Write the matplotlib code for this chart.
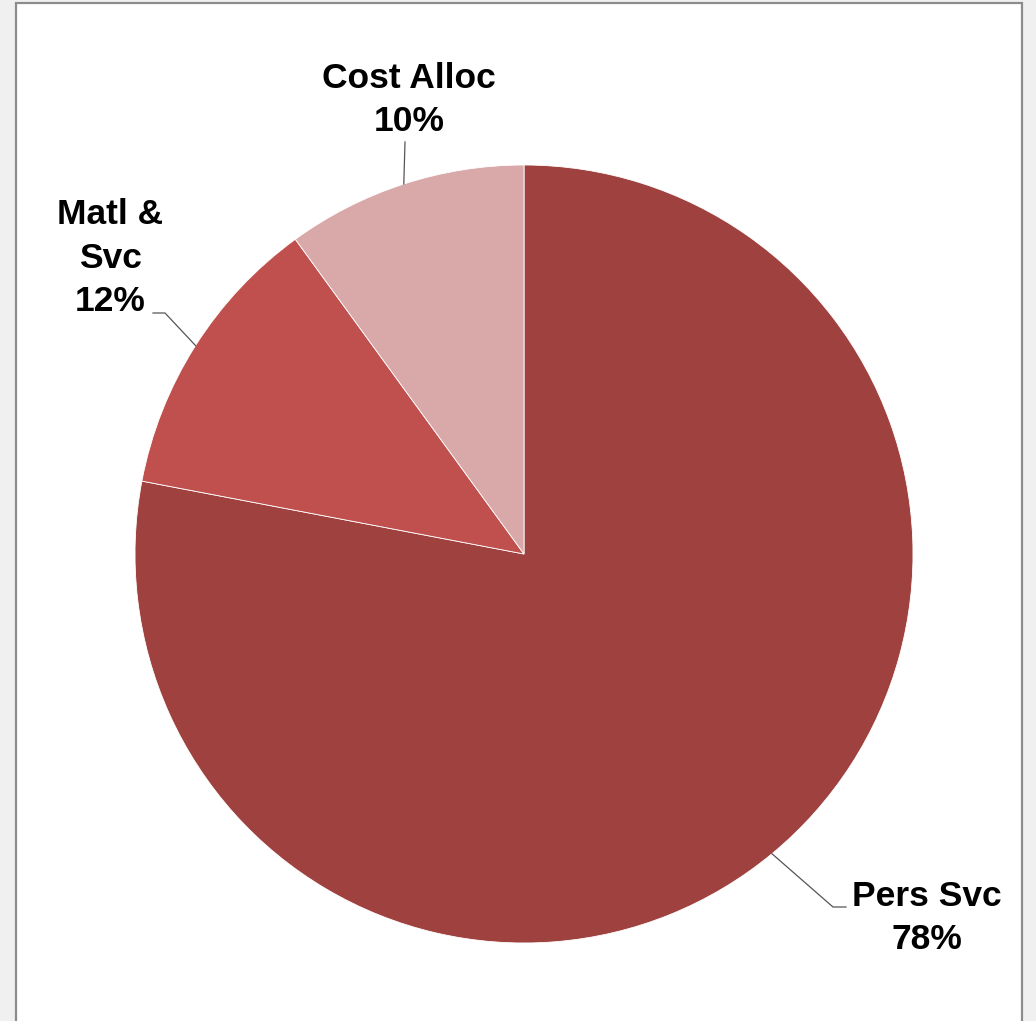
import matplotlib
matplotlib.use("Agg")
import matplotlib.pyplot as plt
import numpy as np
from matplotlib.patches import Rectangle

labels = ["Pers Svc", "Matl &\nSvc", "Cost Alloc"]
values = [78, 12, 10]
colors = ["#9e413f", "#c0504d", "#d9a8a8"]

W, H = 1036, 1021
fig = plt.figure(figsize=(W / 100, H / 100), dpi=100)
fig.patch.set_facecolor("#f0f0f0")
ax = fig.add_axes([0, 0, 1, 1])
ax.set_xlim(0, W)
ax.set_ylim(0, H)
ax.set_axis_off()

def Y(y):
    return H - y

# chart frame
ax.add_patch(Rectangle((16, Y(1030)), 1022 - 16, 1030 - 3, facecolor="white",
                       edgecolor="#8c8c8c", linewidth=1.6, zorder=0))

cx, cy, r = 524, 554, 389
wedges, _ = ax.pie(values, colors=colors, startangle=90, counterclock=False,
                   center=(cx, Y(cy)), radius=r, frame=True,
                   wedgeprops=dict(edgecolor="white", linewidth=0.6))
ax.set_xlim(0, W)
ax.set_ylim(0, H)
ax.set_aspect("equal")
ax.set_axis_off()

font = dict(family=["Liberation Sans", "DejaVu Sans"], fontsize=25.5,
            fontweight="bold", color="black", ha="center", va="center",
            linespacing=1.39)

# label text positions (pixels) and leader line paths
text_pos = [(927, 918), (110, 258), (409, 100)]
leader_elbow = [[(833, 907), (846, 907)], [(165, 313), (153, 313)], [(405, 142)]]

for w, lab, v, tp, el in zip(wedges, labels, values, text_pos, leader_elbow):
    ang = np.deg2rad((w.theta1 + w.theta2) / 2)
    px = cx + r * np.cos(ang)
    py = cy - r * np.sin(ang)
    pts = [(px, py)] + el
    xs = [p[0] for p in pts]
    ys = [Y(p[1]) for p in pts]
    ax.plot(xs, ys, color="#555555", linewidth=0.9, zorder=3)
    ax.text(tp[0], Y(tp[1]), f"{lab}\n{v}%", **font)

fig.savefig("out.png", dpi=100, facecolor=fig.get_facecolor())
